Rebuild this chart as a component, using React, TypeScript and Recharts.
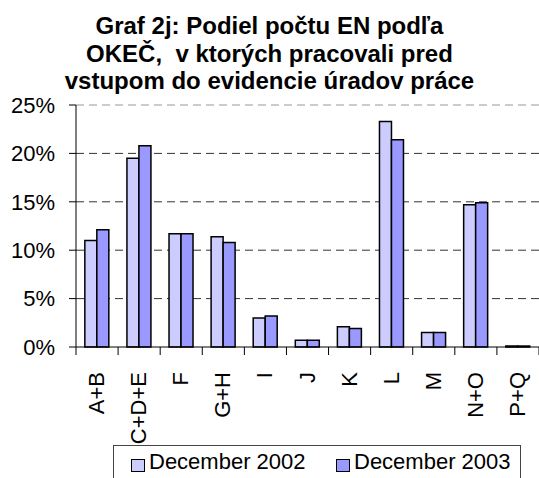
import React from 'react'
import {
  BarChart,
  Bar,
  XAxis,
  YAxis,
  CartesianGrid,
  ReferenceLine,
} from 'recharts'

const categories = ['A+B', 'C+D+E', 'F', 'G+H', 'I', 'J', 'K', 'L', 'M', 'N+O', 'P+Q']
const dec2002 = [11.0, 19.5, 11.7, 11.4, 3.0, 0.7, 2.1, 23.3, 1.5, 14.7, 0.1]
const dec2003 = [12.1, 20.8, 11.7, 10.8, 3.2, 0.7, 1.9, 21.4, 1.5, 14.9, 0.1]
const yTicks = [0, 5, 10, 15, 20, 25]
const titleLines = [
  'Graf 2j: Podiel počtu EN podľa',
  'OKEČ,  v ktorých pracovali pred',
  'vstupom do evidencie úradov práce',
]
const seriesNames = ['December 2002', 'December 2003']

const FONT = '"Liberation Sans", Arial, sans-serif'
const LIGHT = '#CCCCFF'
const BLUE = '#9999FF'

const W = 539
const H = 478
const PLOT_LEFT = 76
const PLOT_RIGHT = 0

const data = categories.map((name, i) => ({
  name,
  d2002: dec2002[i],
  d2003: dec2003[i],
}))

// tick marks sit between categories, labels read bottom-to-top
function CategoryTick(props: any) {
  const { x, y, payload, index } = props
  const band = (W - PLOT_LEFT - PLOT_RIGHT) / categories.length
  const left = x - band / 2
  const tx = x + 7
  const ty = y + 17
  return (
    <g>
      <line x1={left} x2={left} y1={y - 8} y2={y} stroke="#000" />
      {index === categories.length - 1 && (
        <line x1={left + band} x2={left + band} y1={y - 8} y2={y} stroke="#000" />
      )}
      <text
        x={tx}
        y={ty}
        transform={`rotate(-90, ${tx}, ${ty})`}
        textAnchor="end"
        fontSize={22}
        fontFamily={FONT}
        fill="#000"
      >
        {payload.value}
      </text>
    </g>
  )
}

export default function App() {
  return (
    <div style={{ position: 'absolute', left: 0, top: 0, width: W, height: H, background: '#fff', overflow: 'hidden' }}>
      <div
        style={{
          position: 'absolute',
          left: 0,
          top: 12,
          width: W,
          textAlign: 'center',
          fontFamily: FONT,
          fontWeight: 'bold',
          fontSize: 24,
          lineHeight: '27.5px',
          color: '#000',
          whiteSpace: 'pre',
        }}
      >
        {titleLines.map((t) => (
          <div key={t}>{t}</div>
        ))}
      </div>
      <BarChart
        width={W}
        height={H}
        data={data}
        margin={{ top: 105, right: PLOT_RIGHT, bottom: 0, left: 6 }}
        barCategoryGap="21%"
        barGap={0}
      >
        <CartesianGrid
          vertical={false}
          horizontalValues={[5, 10, 15, 20]}
          stroke="#333"
          strokeDasharray="8 5"
        />
        <ReferenceLine y={25} stroke="#999" strokeDasharray="8 5" />
        <XAxis
          dataKey="name"
          height={131}
          interval={0}
          axisLine={{ stroke: '#000' }}
          tickLine={false}
          tick={<CategoryTick />}
        />
        <YAxis
          width={70}
          domain={[0, 25]}
          ticks={yTicks}
          tickFormatter={(v) => `${v}%`}
          tickSize={7}
          tickMargin={14}
          axisLine={{ stroke: '#000' }}
          tickLine={{ stroke: '#000' }}
          tick={{ fill: '#000', fontSize: 22, fontFamily: FONT }}
        />
        <Bar dataKey="d2002" name={seriesNames[0]} fill={LIGHT} stroke="#000" strokeWidth={1.5} isAnimationActive={false} />
        <Bar dataKey="d2003" name={seriesNames[1]} fill={BLUE} stroke="#000" strokeWidth={1.5} isAnimationActive={false} />
      </BarChart>
      <div
        style={{
          position: 'absolute',
          left: 113,
          top: 445,
          width: 408,
          height: 40,
          border: '1px solid #444',
          boxSizing: 'border-box',
          fontFamily: FONT,
          fontSize: 22,
          color: '#000',
        }}
      >
        {seriesNames.map((n, i) => (
          <div
            key={n}
            style={{
              position: 'absolute',
              left: i === 0 ? 17 : 222,
              top: 3,
              display: 'flex',
              alignItems: 'center',
              whiteSpace: 'nowrap',
            }}
          >
            <span
              style={{
                display: 'inline-block',
                width: 12,
                height: 11,
                background: i === 0 ? LIGHT : BLUE,
                border: '1.5px solid #000',
                marginRight: 4,
                marginTop: 7,
              }}
            />
            {n}
          </div>
        ))}
      </div>
    </div>
  )
}
